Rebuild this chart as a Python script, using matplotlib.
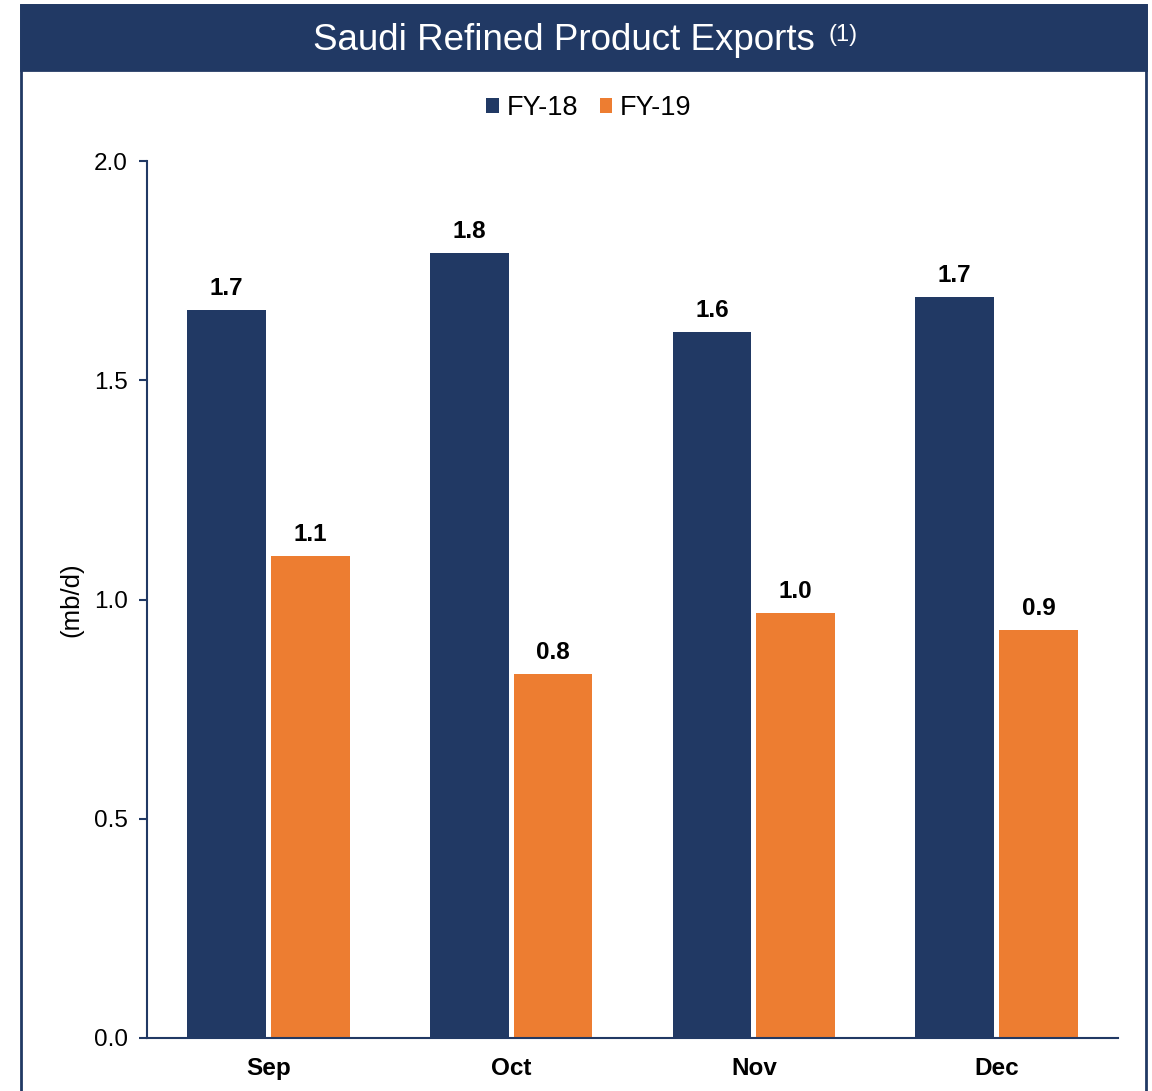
import matplotlib.pyplot as plt
from matplotlib.patches import Rectangle
import numpy as np

plt.rcParams['font.family'] = ['Liberation Sans', 'DejaVu Sans']

months = ['Sep', 'Oct', 'Nov', 'Dec']
fy18 = [1.66, 1.79, 1.61, 1.69]
fy19 = [1.10, 0.83, 0.97, 0.93]
fy18_labels = ['1.7', '1.8', '1.6', '1.7']
fy19_labels = ['1.1', '0.8', '1.0', '0.9']

navy = '#213964'
orange = '#ED7D31'

W, H = 1152, 1091
fig = plt.figure(figsize=(W / 100, H / 100), dpi=100)

# frame and title banner
fig.patches.append(Rectangle((21 / W, -0.01), (1146 - 21) / W, 1 - 5 / H + 0.01,
                             transform=fig.transFigure, fill=False,
                             edgecolor=navy, linewidth=2))
fig.patches.append(Rectangle((21 / W, 1 - 70 / H), (1146 - 21) / W, 65 / H,
                             transform=fig.transFigure, facecolor=navy,
                             edgecolor=navy, linewidth=2))
fig.text(564 / W, 1 - 40 / H, 'Saudi Refined Product Exports', color='white',
         fontsize=26.5, ha='center', va='center')
fig.text(828 / W, 1 - 35 / H, '(1)', color='white', fontsize=17,
         ha='left', va='center')

ax = fig.add_axes([147 / W, 1 - 1038 / H, (1118 - 147) / W, (1038 - 161) / H])

x = np.arange(len(months))
w = 0.325
b1 = ax.bar(x - w / 2 - 0.01, fy18, w, color=navy, label='FY-18')
b2 = ax.bar(x + w / 2 + 0.01, fy19, w, color=orange, label='FY-19')

for bars, labels in ((b1, fy18_labels), (b2, fy19_labels)):
    for r, t in zip(bars, labels):
        ax.annotate(t, (r.get_x() + r.get_width() / 2, r.get_height()),
                    xytext=(0, 7), textcoords='offset points',
                    ha='center', va='bottom', fontsize=17.5, fontweight='bold')

ax.set_xlim(-0.5, 3.5)
ax.set_ylim(0, 2.0)
ax.set_yticks([0.0, 0.5, 1.0, 1.5, 2.0])
ax.set_yticklabels(['0.0', '0.5', '1.0', '1.5', '2.0'])
ax.set_xticks(x)
ax.set_xticklabels(months, fontsize=17.5, fontweight='bold')
ax.tick_params(axis='x', length=0, pad=14)
ax.tick_params(axis='y', length=6, width=1.5, color=navy, labelsize=17.5, pad=8)
ax.spines['top'].set_visible(False)
ax.spines['right'].set_visible(False)
for s in ('left', 'bottom'):
    ax.spines[s].set_color(navy)
    ax.spines[s].set_linewidth(1.5)
ax.set_ylabel('(mb/d)', fontsize=18.5)
ax.yaxis.set_label_coords(-64 / (1118 - 147), 0.5)

fig.legend(handles=[b1, b2], loc='center', bbox_to_anchor=(589 / W, 1 - 108 / H),
           ncol=2, frameon=False, fontsize=19.5, handlelength=0.45, handleheight=0.45,
           handletextpad=0.3, columnspacing=0.8)

fig.savefig('out.png', dpi=100)
